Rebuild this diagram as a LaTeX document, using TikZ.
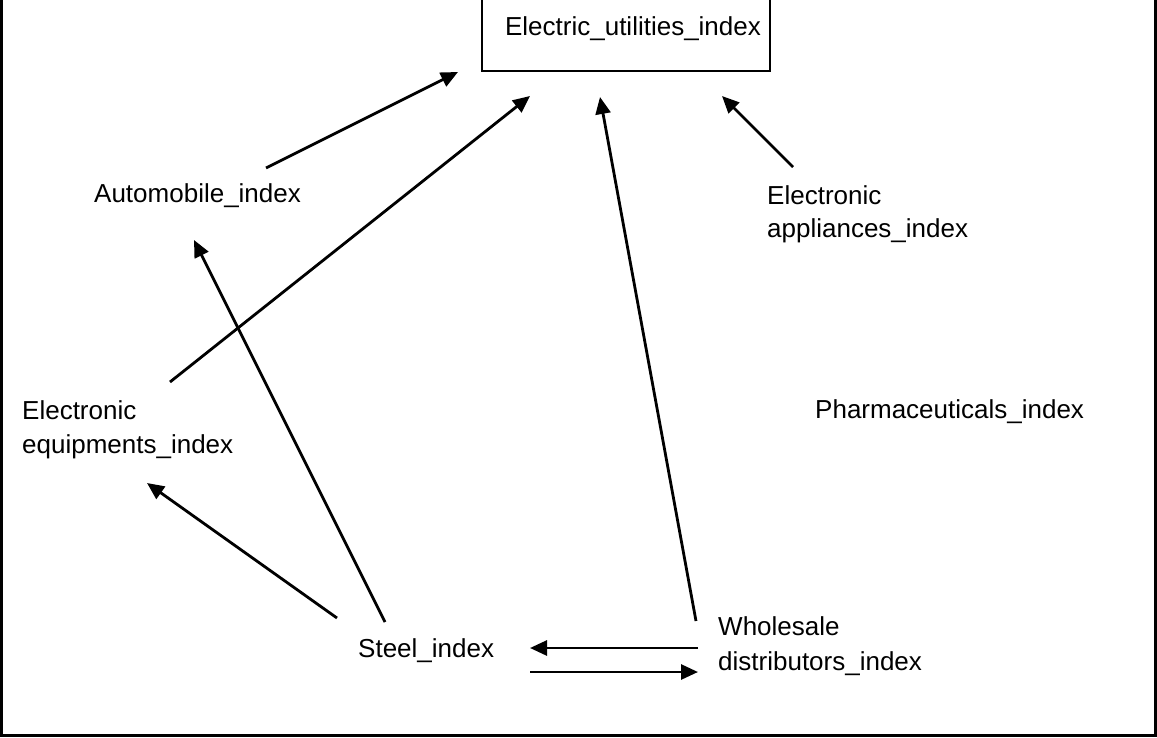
\documentclass[tikz,border=0pt]{standalone}
\usepackage{fontspec}
\setmainfont{Liberation Sans}
\usetikzlibrary{arrows.meta}
\tikzset{
  lbl/.style={anchor=base west, inner sep=0pt, font=\fontsize{26}{34}\selectfont},
  conn/.style={line width=2.8pt, -{Triangle[length=17pt,width=15pt]}},
}
\begin{document}
\begin{tikzpicture}[x=1pt,y=-1pt]
\useasboundingbox (0,0) rectangle (1157,737);
\draw[line width=3pt] (1.5,-10) -- (1.5,735.5) -- (1155.5,735.5) -- (1155.5,-10);
\node[draw, line width=2pt, minimum width=288pt, minimum height=84pt, inner sep=0pt,
      font=\fontsize{26}{34}\selectfont] (elec) at (626,29) {\hspace*{14pt}Electric\_utilities\_index};
\node[lbl] (auto) at (94,202) {Automobile\_index};
\node[lbl] (appl) at (767,204) {\vtop{\baselineskip=33pt\hbox{Electronic}\hbox{appliances\_index}}};
\node[lbl] (equip) at (22,419) {\vtop{\baselineskip=34pt\hbox{Electronic}\hbox{equipments\_index}}};
\node[lbl] (pharm) at (815,418) {Pharmaceuticals\_index};
\node[lbl] (steel) at (358,657) {Steel\_index};
\node[lbl] (whole) at (718,635) {\vtop{\baselineskip=35pt\hbox{Wholesale}\hbox{distributors\_index}}};
% connector end points
\coordinate (autoOut) at (266,168);
\coordinate (elecInA) at (458,72);
\coordinate (equipOut) at (170,382);
\coordinate (elecInB) at (530,96);
\coordinate (wholeUp) at (696,621);
\coordinate (elecInC) at (600,97);
\coordinate (applOut) at (793,167);
\coordinate (elecInD) at (722,96);
\coordinate (steelUpA) at (385,622);
\coordinate (autoIn) at (194,240);
\coordinate (steelUpB) at (337,618);
\coordinate (equipIn) at (147,483);
\coordinate (wholeL) at (698,648);
\coordinate (steelIn) at (530,648);
\coordinate (steelR) at (530,672);
\coordinate (wholeIn) at (698,672);
\draw[conn] (autoOut) -- (elecInA);
\draw[conn] (equipOut) -- (elecInB);
\draw[conn] (wholeUp) -- (elecInC);
\draw[conn] (applOut) -- (elecInD);
\draw[conn] (steelUpA) -- (autoIn);
\draw[conn] (steelUpB) -- (equipIn);
\draw[conn] (wholeL) -- (steelIn);
\draw[conn] (steelR) -- (wholeIn);
\end{tikzpicture}
\end{document}
